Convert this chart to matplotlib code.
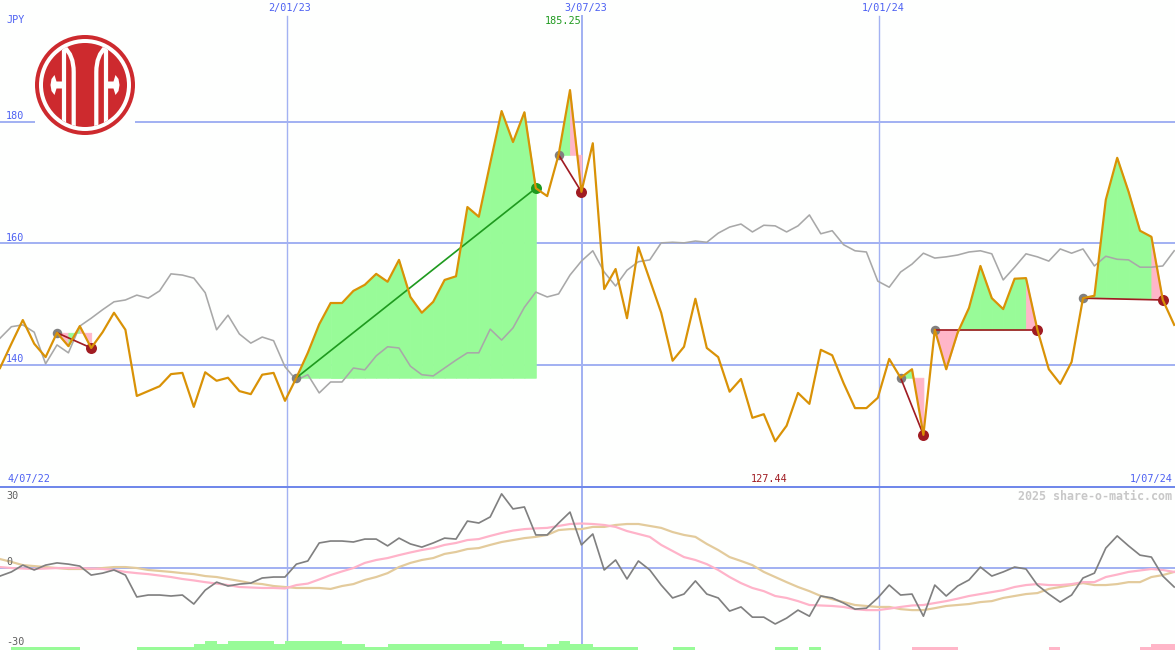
import numpy as np
import matplotlib
matplotlib.use('Agg')
import matplotlib.pyplot as plt
from matplotlib.patches import Circle, Polygon, Rectangle
from matplotlib.path import Path
from matplotlib.patches import PathPatch

# weekly close, JPY
price = [139.5, 143.5, 147.4, 143.5, 141.3, 145.3, 143.1, 146.4, 142.8, 145.4,
         148.6, 145.8, 134.9, 135.7, 136.5, 138.5, 138.7, 133.1, 138.8, 137.4,
         137.9, 135.7, 135.2, 138.4, 138.7, 134.1, 137.9, 142.0, 146.7, 150.2,
         150.2, 152.2, 153.2, 155.0, 153.7, 157.3, 151.2, 148.6, 150.4, 154.0,
         154.6, 166.0, 164.4, 173.2, 181.8, 176.7, 181.6, 169.1, 167.8, 174.6,
         185.25, 168.5, 176.5, 152.5, 155.8, 147.7, 159.4, 154.0, 148.6, 140.7,
         143.0, 150.9, 142.8, 141.3, 135.6, 137.7, 131.3, 131.9, 127.44, 130.0,
         135.4, 133.6, 142.5, 141.6, 137.0, 132.9, 132.9, 134.6, 141.0, 137.9,
         139.3, 128.5, 145.8, 139.3, 145.3, 149.4, 156.3, 151.0, 149.2, 154.2,
         154.3, 145.8, 139.3, 136.9, 140.5, 151.0, 151.4, 167.2, 174.1, 168.5,
         162.1, 161.1, 150.7, 146.6]

# comparison index, rescaled to the price axis
index_line = [144.4, 146.3, 146.6, 145.4, 140.2, 143.3, 142.0, 146.4, 147.7, 149.1,
              150.4, 150.7, 151.5, 151.0, 152.2, 155.0, 154.8, 154.3, 151.9, 145.8,
              148.2, 145.1, 143.6, 144.6, 144.0, 139.7, 137.5, 138.4, 135.4, 137.2,
              137.2, 139.5, 139.2, 141.5, 143.0, 142.8, 139.8, 138.4, 138.2, 139.5,
              140.8, 142.0, 142.0, 145.9, 144.1, 146.1, 149.5, 152.0, 151.2, 151.7,
              154.8, 157.1, 158.8, 155.3, 153.0, 155.6, 157.0, 157.3, 160.1, 160.2,
              160.1, 160.4, 160.2, 161.7, 162.7, 163.2, 161.9, 163.0, 162.9, 161.9,
              162.9, 164.7, 161.6, 162.1, 159.8, 158.8, 158.6, 153.8, 152.8, 155.3,
              156.6, 158.4, 157.6, 157.8, 158.1, 158.6, 158.8, 158.3, 154.0, 156.1,
              158.3, 157.8, 157.1, 159.1, 158.4, 159.1, 156.3, 157.9, 157.4, 157.3,
              156.1, 156.1, 156.3, 158.8]

# lower panel
osc = [-3.3, -1.6, 1.2, -0.8, 1.2, 2.1, 1.6, 0.8, -2.9, -2.1,
       -0.8, -2.9, -11.9, -11.1, -11.1, -11.5, -11.1, -14.8, -9.1, -5.8,
       -7.4, -6.6, -6.2, -4.1, -3.7, -3.7, 1.6, 2.9, 10.3, 11.1,
       11.1, 10.7, 11.9, 11.9, 9.1, 12.3, 9.9, 8.6, 10.3, 12.3,
       11.9, 19.3, 18.5, 21.0, 30.5, 24.3, 25.1, 13.6, 13.6, 18.5,
       23.0, 9.5, 14.0, -0.8, 3.3, -4.5, 2.9, -0.8, -7.0, -12.3,
       -10.7, -5.3, -10.7, -12.3, -17.7, -16.0, -20.2, -20.2, -23.0, -20.6,
       -17.3, -19.8, -11.5, -12.3, -14.4, -16.9, -16.5, -12.3, -7.0, -11.1,
       -10.7, -19.8, -7.0, -11.5, -7.4, -4.9, 0.4, -3.3, -1.6, 0.4,
       -0.4, -7.0, -10.7, -14.0, -11.1, -4.1, -2.1, 8.2, 13.2, 9.1,
       5.3, 4.5, -3.3, -7.8]

osc_fast = [0.4, 0.0, -0.2, -0.4, -0.2, 0.0, 0.0, 0.0, -0.2, -0.4,
            -0.8, -1.6, -2.1, -2.5, -3.1, -3.7, -4.5, -5.1, -5.8, -6.4,
            -7.0, -7.8, -8.0, -8.2, -8.2, -8.4, -7.0, -6.4, -4.7, -2.9,
            -1.4, 0.0, 2.1, 3.3, 4.1, 5.3, 6.4, 7.4, 8.2, 9.5,
            10.3, 11.5, 11.9, 13.2, 14.4, 15.4, 16.0, 16.3, 16.5, 17.3,
            18.1, 18.3, 18.1, 17.7, 16.9, 15.2, 14.0, 12.8, 9.5, 7.0,
            4.5, 3.3, 1.6, -0.8, -3.7, -6.2, -8.2, -9.5, -11.5, -12.3,
            -13.6, -15.2, -15.4, -15.6, -16.0, -16.9, -17.3, -17.3, -16.7, -16.0,
            -15.4, -15.2, -14.4, -13.6, -12.6, -11.5, -10.7, -9.9, -9.1, -7.8,
            -7.0, -6.6, -7.0, -7.0, -6.6, -5.8, -5.8, -3.7, -2.7, -1.6,
            -1.0, -0.4, -0.8, -1.6]

osc_slow = [3.7, 2.5, 1.2, 0.8, 0.4, 0.0, -0.4, -0.4, -0.4, 0.0,
            0.4, 0.4, 0.0, -0.8, -1.2, -1.6, -2.1, -2.5, -3.3, -3.7,
            -4.5, -5.3, -6.2, -6.6, -7.4, -7.8, -8.2, -8.2, -8.2, -8.6,
            -7.4, -6.6, -4.9, -3.7, -2.1, 0.4, 2.1, 3.3, 4.1, 5.8,
            6.6, 7.8, 8.2, 9.5, 10.7, 11.5, 12.3, 12.8, 13.6, 15.6,
            16.0, 16.0, 16.9, 16.9, 17.7, 18.1, 18.1, 17.3, 16.5, 14.8,
            13.6, 12.8, 9.9, 7.4, 4.5, 2.9, 1.2, -1.6, -3.7, -5.8,
            -7.8, -9.5, -11.5, -12.8, -14.0, -15.2, -15.6, -16.0, -16.0, -16.9,
            -17.3, -17.3, -16.5, -15.6, -15.2, -14.8, -14.0, -13.6, -12.3, -11.5,
            -10.7, -10.3, -8.6, -7.8, -7.0, -6.2, -7.0, -7.0, -6.6, -5.8,
            -5.8, -3.7, -2.9, -1.6]

# bar height in steps, negative is pink
hist = [0, 1, 1, 1, 1, 1, 1, 0, 0, 0,
        0, 0, 1, 1, 1, 1, 1, 2, 3, 2,
        3, 3, 3, 3, 2, 3, 3, 3, 3, 3,
        2, 2, 1, 1, 2, 2, 2, 2, 2, 2,
        2, 2, 2, 3, 2, 2, 1, 1, 2, 3,
        2, 2, 1, 1, 1, 1, 0, 0, 0, 1,
        1, 0, 0, 0, 0, 0, 0, 0, 1, 1,
        0, 1, 0, 0, 0, 0, 0, 0, 0, 0,
        -1, -1, -1, -1, 0, 0, 0, 0, 0, 0,
        0, 0, -1, 0, 0, 0, 0, 0, 0, 0,
        -1, -2, -2, -2]

trade_start = [5, 26, 49, 79, 82, 95]
trade_end = [8, 47, 51, 81, 91, 102]

price_ticks = [180, 160, 140]
date_pos = [25.18, 51.05, 77.1]
date_labels = ['2/01/23', '3/07/23', '1/01/24']
date_label_x = [268, 564, 862]
date_widths = [1.4, 2.0, 1.4]

BG = '#fefffe'
GRID = '#a3b2f2'
BLUE = '#4c60f2'
GOLD = '#d99206'
DKRED = '#a01c22'
GREEN = '#98fb98'
PINK = '#ffb6c8'
LOGO = '#cd2a2e'

plt.rcParams['font.family'] = 'DejaVu Sans Mono'
PX = 0.72   # points per pixel at dpi 100

fig = plt.figure(figsize=(11.75, 6.5), dpi=100, facecolor=BG)
x = np.arange(len(price))
xlim = (0, 1175 / 11.4)

# top panel
ax = fig.add_axes([0, 162 / 650, 1, 488 / 650], facecolor=BG)
ax.set_xlim(xlim)
ax.set_ylim(119.75, 200.08)
ax.axis('off')
for t in price_ticks:
    ax.axhline(t, color=GRID, lw=2 * PX, zorder=1)
for p, w in zip(date_pos, date_widths):
    ax.axvline(p, ymax=(488 - 16) / 488, color=GRID, lw=w * PX, zorder=1)

for s, e in zip(trade_start, trade_end):
    base = price[s]
    for i in range(s, e):
        c = GREEN if price[i + 1] > base else PINK
        # thin edge in the same colour closes the seams between segments
        ax.fill_between([i, i + 1], [base, base], [price[i], price[i + 1]],
                        facecolor=c, edgecolor=c, lw=0.6, zorder=2)

ax.plot(x, index_line, color='#a8a8a8', lw=1.6 * PX, zorder=3)

for s, e in zip(trade_start, trade_end):
    c = '#1f9a1f' if price[e] > price[s] else DKRED
    ax.plot(s, price[s], 'o', color='#808080', ms=9.5 * PX, mew=0, zorder=4)
    ax.plot(e, price[e], 'o', color=c, ms=11 * PX, mew=0, zorder=4)
    ax.plot([s, e], [price[s], price[e]], color=c, lw=1.7 * PX, zorder=5)

ax.plot(x, price, color=GOLD, lw=2.2 * PX, zorder=6)

# lower panel
ax2 = fig.add_axes([0, 0, 1, 162 / 650], facecolor=BG)
ax2.set_xlim(xlim)
ax2.set_ylim(-33.7, 32.9)
ax2.axis('off')
ax2.axhline(0, color=GRID, lw=2 * PX, zorder=1)
for p, w in zip(date_pos, date_widths):
    ax2.axvline(p, color=GRID, lw=w * PX, zorder=1)
ax2.plot(x, osc_slow, color='#e3cb9c', lw=2.2 * PX, zorder=2)
ax2.plot(x, osc_fast, color='#ffb3c9', lw=2.2 * PX, zorder=3)
ax2.plot(x, osc, color='#808080', lw=1.7 * PX, zorder=4)

# histogram along the bottom edge
ax3 = fig.add_axes([0, 0, 1, 9 / 650])
ax3.patch.set_alpha(0)
ax3.set_xlim(xlim)
ax3.set_ylim(0, 3)
ax3.axis('off')
ax3.bar(x, np.abs(hist), width=1, align='edge', lw=0, antialiased=False,
        color=[GREEN if h > 0 else PINK for h in hist])

# pixel overlay for labels and logo
ov = fig.add_axes([0, 0, 1, 1])
ov.patch.set_alpha(0)
ov.set_xlim(0, 1175)
ov.set_ylim(650, 0)
ov.axis('off')
ov.plot([0, 1175], [487, 487], color='#7088ea', lw=2 * PX, solid_capstyle='butt')

FS = 7.25
def label(px, py, s, color=BLUE, ha='left', **kw):
    ov.text(px, py, s, color=color, ha=ha, va='center', fontsize=kw.pop('fs', FS), **kw)

label(6, 20, 'JPY')
for t, py in zip(price_ticks, [116, 238, 359]):
    label(6, py, str(t), zorder=8)
for px, s in zip(date_label_x, date_labels):
    label(px, 8.5, s)
label(545, 21, '185.25', color='#1f9a1f')
label(8, 479, '4/07/22')
label(751, 479, '127.44', color=DKRED)
label(1130, 479, '1/07/24')
label(6, 496, '30', color='#606060')
label(6, 562, '0', color='#606060')
label(6, 642, '-30', color='#606060')
label(1172, 496, '2025 share-o-matic.com', color='#c8c8c8', ha='right',
      fs=8.4, fontweight='bold')

# logo: white box, ring, then a disc cut by white strips
ov.add_patch(Rectangle((35, 35), 100, 100, color=BG, lw=0, zorder=6))
ov.add_patch(Circle((85, 85), 50, color=LOGO, lw=0, zorder=7))
ov.add_patch(Circle((85, 85), 46, color=BG, lw=0, zorder=7))
disc = Circle((85, 85), 42, color=LOGO, lw=0, zorder=7)
ov.add_patch(disc)
for sign in [-1, 1]:
    cx = lambda d: 85 + sign * d
    for verts, codes in [
        ([(cx(21), 30), (cx(21), 140)], [Path.MOVETO, Path.LINETO]),
        ([(cx(11.3), 140), (cx(11.3), 72), (cx(11.3), 55), (cx(21), 47)],
         [Path.MOVETO, Path.LINETO, Path.CURVE3, Path.CURVE3]),
    ]:
        pp = PathPatch(Path(verts, codes), fc='none', ec=BG, lw=4.2 * PX, zorder=8)
        ov.add_patch(pp)
        pp.set_clip_path(disc)
    notch = [(30.5, 75), (33.5, 79), (34.5, 85), (33.5, 91), (30.5, 95), (28.5, 88.5),
             (22.5, 88.5), (22.5, 81.5), (28.5, 81.5)]
    ov.add_patch(Polygon([(cx(d), y) for d, y in notch], color=BG, lw=0, zorder=8))

fig.savefig('out.png', dpi=100, facecolor=BG)
print(len(price), len(index_line), len(osc), len(osc_fast), len(osc_slow), len(hist))
